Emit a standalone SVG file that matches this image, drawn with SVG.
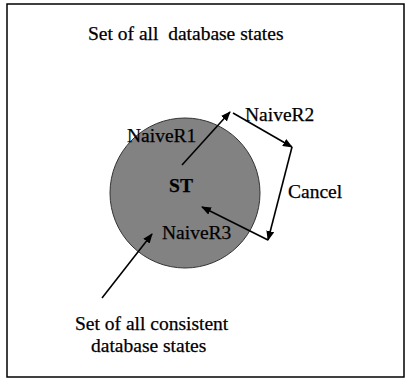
<svg xmlns="http://www.w3.org/2000/svg" width="406" height="382" viewBox="0 0 406 382">
<style>
text{font-family:"Liberation Serif","Times New Roman",serif;font-size:19.5px;fill:#000;stroke:#000;stroke-width:0.25;white-space:pre}
.ln{stroke:#000;stroke-width:1.6;fill:none}
</style>
<defs>
<marker id="ah" markerWidth="10" markerHeight="8" refX="9" refY="4" orient="auto" markerUnits="userSpaceOnUse">
<path d="M0,0 L10,4 L0,8 Z" fill="#000"/>
</marker>
</defs>
<rect width="406" height="382" fill="#fff"/>
<rect x="7" y="4" width="397" height="373" fill="none" stroke="#000" stroke-width="1.5"/>
<g id="all-states"><text x="88" y="40" xml:space="preserve">Set of all  database states</text></g>
<g id="consistent-set">
<circle cx="185" cy="193" r="75" fill="#828282" stroke="#333" stroke-width="1"/>
<text x="181" y="192" font-weight="bold" font-size="25" text-anchor="middle">ST</text>
<text x="127" y="142">NaiveR1</text>
<text x="162" y="239">NaiveR3</text>
</g>
<g id="naiveR2"><text x="245" y="121">NaiveR2</text></g>
<g id="cancel"><text x="288" y="198">Cancel</text></g>
<g id="consistent-label">
<text x="75" y="330">Set of all consistent</text>
<text x="91" y="352">database states</text>
</g>
<g id="connectors">
<line class="ln" x1="182" y1="165" x2="230" y2="112" marker-end="url(#ah)"/>
<line class="ln" x1="233" y1="113" x2="292" y2="147" marker-end="url(#ah)"/>
<line class="ln" x1="292" y1="147" x2="268" y2="240" marker-end="url(#ah)"/>
<line class="ln" x1="268" y1="240" x2="202" y2="207" marker-end="url(#ah)"/>
<line class="ln" x1="102" y1="298" x2="152" y2="234" marker-end="url(#ah)"/>
</g>
</svg>
